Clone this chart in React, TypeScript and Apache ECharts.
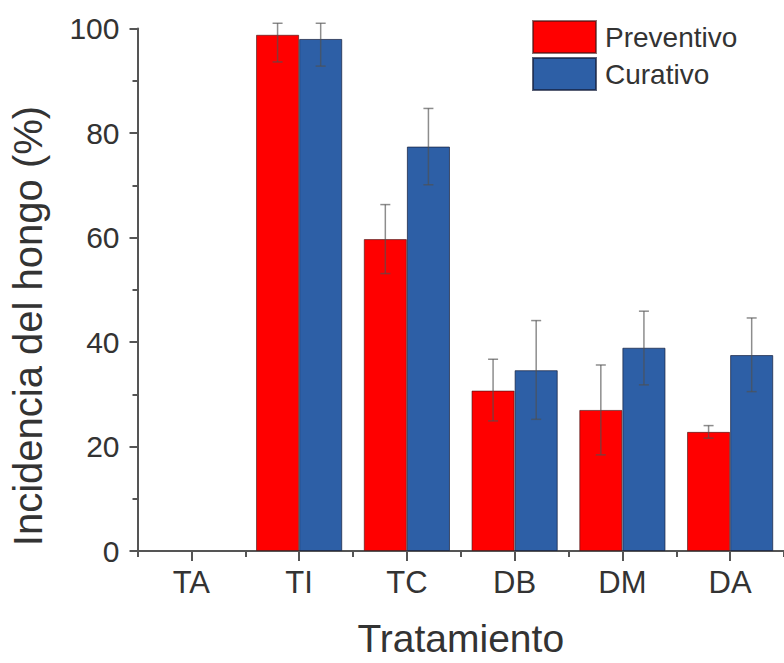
import React, { useEffect, useRef } from "react";
import * as echarts from "echarts";

const categories = ["TA", "TI", "TC", "DB", "DM", "DA"];
const preventivo: (number | null)[] = [null, 98.8, 59.7, 30.7, 27.0, 22.8];
const curativo: (number | null)[] = [null, 98.0, 77.4, 34.6, 38.9, 37.5];
// error extents (upper / lower) as drawn
const prevErrUp: (number | null)[] = [null, 2.2, 6.6, 6.0, 8.6, 1.2];
const prevErrDown: (number | null)[] = [null, 5.2, 6.6, 5.8, 8.6, 1.2];
const curErrUp: (number | null)[] = [null, 3.0, 7.3, 9.5, 7.0, 7.1];
const curErrDown: (number | null)[] = [null, 5.2, 7.3, 9.4, 7.1, 7.0];
const yTicks = { min: 0, max: 100, interval: 20 };

const FONT = "'Liberation Sans', Arial, sans-serif";
const RED = "#ff0000";
const BLUE = "#2d5fa6";

function errData(vals: (number | null)[], up: (number | null)[], down: (number | null)[]) {
  const out: any[] = [];
  vals.forEach((v, i) => {
    if (v == null || up[i] == null || down[i] == null) return;
    out.push([i, v - (down[i] as number), v + (up[i] as number)]);
  });
  return out;
}

function makeRenderer(sign: number) {
  return (params: any, api: any) => {
    const x = api.value(0);
    const lo = api.coord([x, api.value(1)]);
    const hi = api.coord([x, api.value(2)]);
    const cat = api.size([1, 0])[0];
    const cx = lo[0] + sign * cat * 0.2;
    const cap = 5;
    const style = { stroke: "rgba(80,80,80,0.65)", lineWidth: 1.5 };
    return {
      type: "group",
      children: [
        { type: "line", shape: { x1: cx, y1: lo[1], x2: cx, y2: hi[1] }, style },
        { type: "line", shape: { x1: cx - cap, y1: hi[1], x2: cx + cap, y2: hi[1] }, style },
        { type: "line", shape: { x1: cx - cap, y1: lo[1], x2: cx + cap, y2: lo[1] }, style },
      ],
    };
  };
}

export default function App() {
  const ref = useRef<HTMLDivElement>(null);
  useEffect(() => {
    if (!ref.current) return;
    const chart = echarts.init(ref.current, null, { renderer: "svg" });
    const axisLine = { show: true, lineStyle: { color: "#555", width: 2 } };
    chart.setOption({
      animation: false,
      backgroundColor: "#ffffff",
      grid: { left: 137.5, top: 28.5, width: 651, height: 529, containLabel: false },
      legend: {
        orient: "vertical",
        left: 532,
        top: 20,
        padding: 0,
        itemWidth: 63,
        itemHeight: 32,
        itemGap: 3,
        icon: "rect",
        textStyle: { fontFamily: FONT, fontSize: 28, color: "#333", padding: [0, 0, 0, 4] },
        data: ["Preventivo", "Curativo"],
      },
      xAxis: [
        {
          type: "category",
          data: categories,
          position: "bottom",
          axisLine,
          axisTick: { show: true, alignWithLabel: true, length: 10, lineStyle: { color: "#555", width: 2 } },
          axisLabel: { fontFamily: FONT, fontSize: 31, color: "#333", margin: 16 },
          name: "Tratamiento",
          nameLocation: "middle",
          nameGap: 68,
          nameTextStyle: { fontFamily: FONT, fontSize: 39, color: "#333" },
        },
        {
          type: "category",
          data: categories,
          position: "bottom",
          axisLine: { show: false },
          axisTick: { show: true, alignWithLabel: false, length: 6, lineStyle: { color: "#555", width: 2 } },
          axisLabel: { show: false },
        },
      ],
      yAxis: {
        type: "value",
        min: yTicks.min,
        max: yTicks.max,
        interval: yTicks.interval,
        axisLine,
        axisTick: { show: true, length: 8, lineStyle: { color: "#555", width: 2 } },
        minorTick: { show: true, splitNumber: 2, length: 5, lineStyle: { color: "#555", width: 2 } },
        splitLine: { show: false },
        axisLabel: { fontFamily: FONT, fontSize: 30, color: "#333", margin: 18 },
      },
      graphic: [
        {
          type: "text",
          x: 28,
          y: 326,
          rotation: Math.PI / 2,
          style: {
            text: "Incidencia del hongo (%)",
            fontFamily: FONT,
            fontSize: 40,
            fill: "#333",
            textAlign: "center",
            textVerticalAlign: "middle",
          },
        },
      ],
      series: [
        {
          name: "Preventivo",
          type: "bar",
          data: preventivo,
          barCategoryGap: "20%",
          barGap: "0%",
          itemStyle: { color: RED, borderColor: "rgba(60,20,20,0.6)", borderWidth: 1 },
        },
        {
          name: "Curativo",
          type: "bar",
          data: curativo,
          barCategoryGap: "20%",
          barGap: "0%",
          itemStyle: { color: BLUE, borderColor: "rgba(20,30,60,0.7)", borderWidth: 1 },
        },
        {
          type: "custom",
          renderItem: makeRenderer(-1),
          data: errData(preventivo, prevErrUp, prevErrDown),
          encode: { x: 0, y: [1, 2] },
          clip: false,
          z: 5,
          silent: true,
        },
        {
          type: "custom",
          renderItem: makeRenderer(1),
          data: errData(curativo, curErrUp, curErrDown),
          encode: { x: 0, y: [1, 2] },
          clip: false,
          z: 5,
          silent: true,
        },
      ],
    });
    return () => chart.dispose();
  }, []);
  return (
    <div
      ref={ref}
      style={{ position: "fixed", left: 0, top: 0, width: 784, height: 663, background: "#fff" }}
    />
  );
}
